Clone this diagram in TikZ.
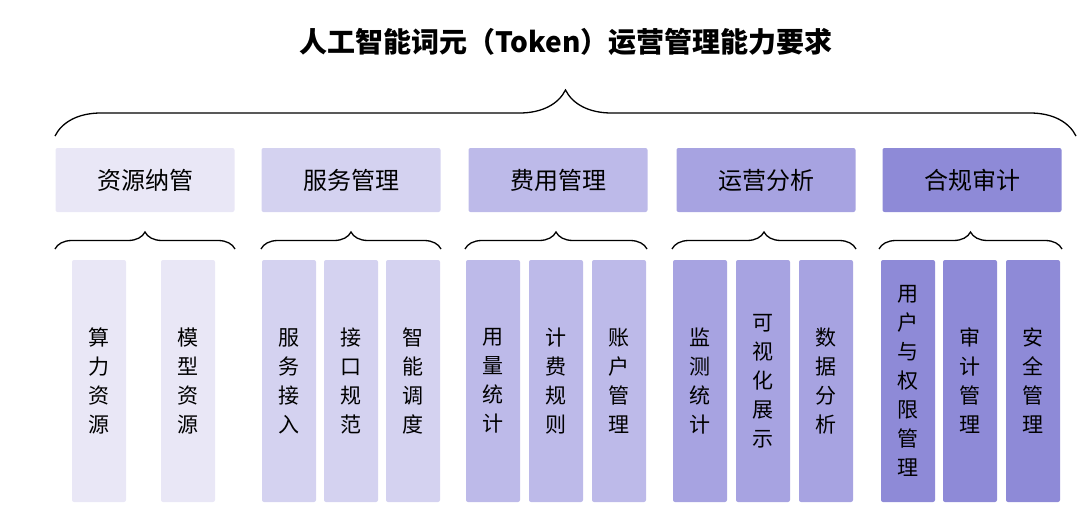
\documentclass[tikz,border=0pt]{standalone}
\usepackage{fontspec}
\setmainfont{Noto Sans CJK SC}
\usetikzlibrary{decorations.pathreplacing}
\begin{document}
\begin{tikzpicture}[x=1pt,y=-1pt]
    \definecolor{cA}{HTML}{E9E7F6}
    \definecolor{cB}{HTML}{D4D2F0}
    \definecolor{cC}{HTML}{BDBAE9}
    \definecolor{cD}{HTML}{A7A3E1}
    \definecolor{cE}{HTML}{8E8AD7}

    \tikzstyle{cat}=[rounded corners=2pt,minimum width=179pt,minimum height=64pt,font=\fontsize{24}{28}\selectfont,inner sep=0pt]
    \tikzstyle{item}=[rounded corners=2pt,minimum width=54pt,minimum height=242pt,font=\fontsize{21}{29}\selectfont,align=center,inner sep=0pt]
    \tikzstyle{bigbrace}=[decorate,decoration={brace,amplitude=46pt},line width=1.3pt]
    \tikzstyle{smallbrace}=[decorate,decoration={brace,amplitude=17pt},line width=1.3pt]

    \useasboundingbox (0,0) rectangle (1080,522);

    \node[font=\bfseries\fontsize{28}{32}\selectfont] (title) at (566,42) {人工智能词元（Token）运营管理能力要求};

    \coordinate (bl) at (55,136);
    \coordinate (br) at (1076,136);
    \draw [bigbrace] (bl) -- (br);

    \node[cat,fill=cA] (res) at (145,180) {资源纳管};
    \node[cat,fill=cB] (svc) at (351,180) {服务管理};
    \node[cat,fill=cC] (fee) at (558,180) {费用管理};
    \node[cat,fill=cD] (ops) at (766,180) {运营分析};
    \node[cat,fill=cE] (aud) at (972,180) {合规审计};

    \foreach \l/\r in {55/235,261/441,465/647,672/856,879/1062}
        \draw [smallbrace] (\l,249) -- (\r,249);

    \foreach \x/\c/\t/\n in {
        99/cA/{算\\力\\资\\源}/r1, 188/cA/{模\\型\\资\\源}/r2,
        289/cB/{服\\务\\接\\入}/s1, 351/cB/{接\\口\\规\\范}/s2, 413/cB/{智\\能\\调\\度}/s3,
        493/cC/{用\\量\\统\\计}/f1, 556/cC/{计\\费\\规\\则}/f2, 619/cC/{账\\户\\管\\理}/f3,
        700/cD/{监\\测\\统\\计}/o1, 763/cD/{可\\视\\化\\展\\示}/o2, 826/cD/{数\\据\\分\\析}/o3,
        908/cE/{用\\户\\与\\权\\限\\管\\理}/a1, 970/cE/{审\\计\\管\\理}/a2, 1033/cE/{安\\全\\管\\理}/a3}
        \node[item,fill=\c] (\n) at (\x,381) {\t};
\end{tikzpicture}
\end{document}
